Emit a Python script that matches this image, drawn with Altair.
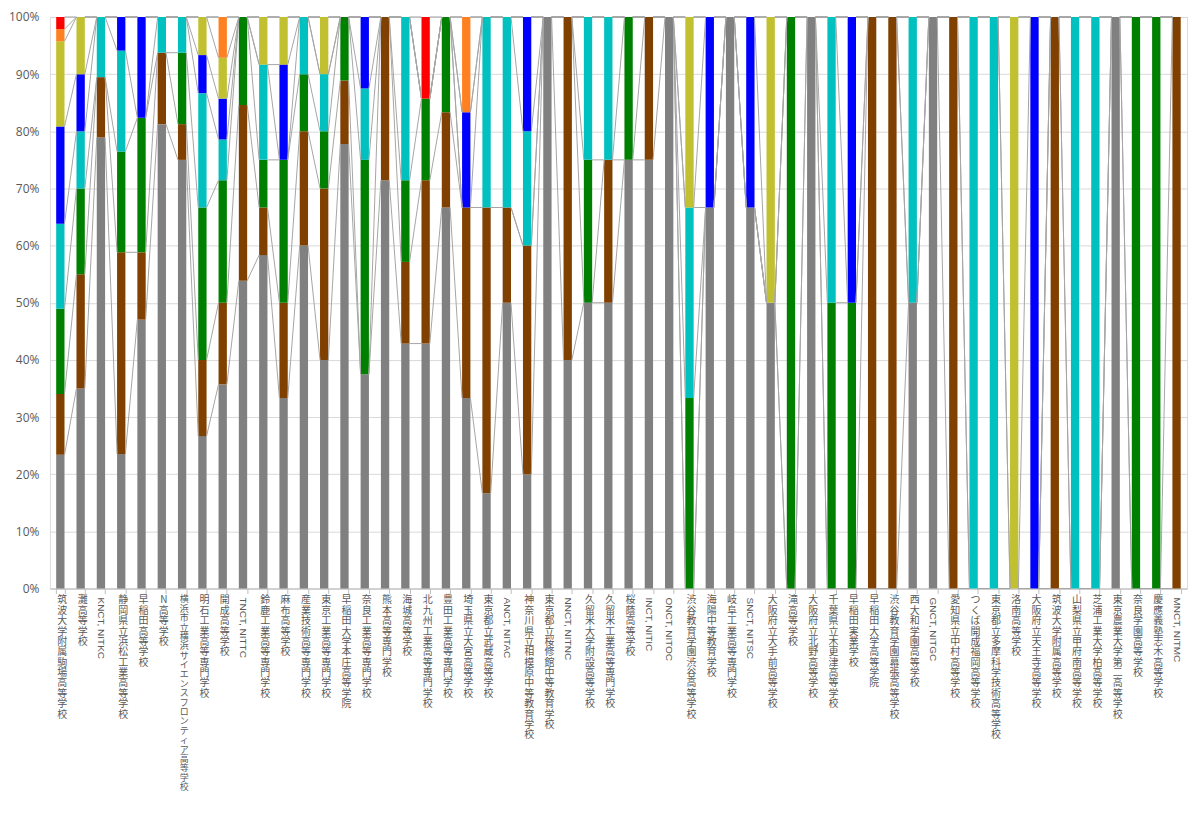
import altair as alt
import pandas as pd

schools = [
    "筑波大学附属駒場高等学校", "灘高等学校", "KNCT, NITKC", "静岡県立浜松工業高等学校",
    "早稲田高等学校", "N高等学校", "横浜市立横浜サイエンスフロンティア高等学校",
    "明石工業高等専門学校", "開成高等学校", "TNCT, NITTC", "鈴鹿工業高等専門学校",
    "麻布高等学校", "産業技術高等専門学校", "東京工業高等専門学校", "早稲田大学本庄高等学院",
    "奈良工業高等専門学校", "熊本高等専門学校", "海城高等学校", "北九州工業高等専門学校",
    "豊田工業高等専門学校", "埼玉県立大宮高等学校", "東京都立武蔵高等学校", "ANCT, NITAC",
    "神奈川県立相模原中等教育学校", "東京都立桜修館中等教育学校", "NNCT, NITNC",
    "久留米大学附設高等学校", "久留米工業高等専門学校", "桜蔭高等学校", "INCT, NITIC",
    "ONCT, NITOC", "渋谷教育学園渋谷高等学校", "海陽中等教育学校", "岐阜工業高等専門学校",
    "SNCT, NITSC", "大阪府立大手前高等学校", "滝高等学校", "大阪府立北野高等学校",
    "千葉県立木更津高等学校", "早稲田実業学校", "早稲田大学高等学院", "渋谷教育学園幕張高等学校",
    "西大和学園高等学校", "GNCT, NITGC", "愛知県立中村高等学校", "つくば開成福岡高等学校",
    "東京都立多摩科学技術高等学校", "洛南高等学校", "大阪府立天王寺高等学校",
    "筑波大学附属高等学校", "山梨県立甲府南高等学校", "芝浦工業大学柏高等学校",
    "東京農業大学第二高等学校", "奈良学園高等学校", "慶應義塾志木高等学校", "MNCT, NITMC",
]

series_names = ["系列1", "系列2", "系列3", "系列4", "系列5", "系列6", "系列7", "系列8"]
series_colors = ["#808080", "#804000", "#008000", "#00C0C0", "#0000FF", "#C0C030", "#FF8020", "#FF0000"]

gray = [11, 7, 15, 4, 8, 13, 12, 4, 5, 7, 7, 4, 6, 4, 7, 3, 5, 3, 3, 4, 2, 1, 3, 1, 1, 2, 2, 2,
        3, 3, 1, 0, 2, 1, 2, 1, 0, 1, 0, 0, 0, 0, 1, 1, 0, 0, 0, 0, 0, 0, 0, 0, 1, 0, 0, 0]
brown = [5, 4, 2, 6, 2, 2, 1, 2, 2, 4, 1, 2, 2, 3, 1, 0, 2, 1, 2, 1, 2, 3, 1, 2, 0, 3, 0, 1,
         0, 1, 0, 0, 0, 0, 0, 0, 0, 0, 0, 0, 1, 1, 0, 0, 1, 0, 0, 0, 0, 1, 0, 0, 0, 0, 0, 1]
green = [7, 3, 0, 3, 4, 0, 2, 4, 3, 2, 1, 3, 1, 1, 1, 3, 0, 1, 1, 1, 0, 0, 0, 0, 0, 0, 1, 0,
         1, 0, 0, 1, 0, 0, 0, 0, 1, 0, 1, 1, 0, 0, 0, 0, 0, 0, 0, 0, 0, 0, 0, 0, 0, 1, 1, 0]
cyan = [7, 2, 2, 3, 0, 1, 1, 3, 1, 0, 2, 0, 1, 1, 0, 1, 0, 2, 0, 0, 0, 2, 2, 1, 0, 0, 1, 1,
        0, 0, 0, 1, 0, 0, 0, 0, 0, 0, 1, 0, 0, 0, 1, 0, 0, 1, 1, 0, 0, 0, 1, 1, 0, 0, 0, 0]
blue = [8, 2, 0, 1, 3, 0, 0, 1, 1, 0, 0, 2, 0, 0, 0, 1, 0, 0, 0, 0, 1, 0, 0, 1, 0, 0, 0, 0,
        0, 0, 0, 0, 1, 0, 1, 0, 0, 0, 0, 1, 0, 0, 0, 0, 0, 0, 0, 0, 1, 0, 0, 0, 0, 0, 0, 0]
olive = [7, 2, 0, 0, 0, 0, 0, 1, 1, 0, 1, 1, 0, 1, 0, 0, 0, 0, 0, 0, 0, 0, 0, 0, 0, 0, 0, 0,
         0, 0, 0, 1, 0, 0, 0, 1, 0, 0, 0, 0, 0, 0, 0, 0, 0, 0, 0, 1, 0, 0, 0, 0, 0, 0, 0, 0]
orange = [1, 0, 0, 0, 0, 0, 0, 0, 1, 0, 0, 0, 0, 0, 0, 0, 0, 0, 0, 0, 1, 0, 0, 0, 0, 0, 0, 0,
          0, 0, 0, 0, 0, 0, 0, 0, 0, 0, 0, 0, 0, 0, 0, 0, 0, 0, 0, 0, 0, 0, 0, 0, 0, 0, 0, 0]
red = [1, 0, 0, 0, 0, 0, 0, 0, 0, 0, 0, 0, 0, 0, 0, 0, 0, 0, 1, 0, 0, 0, 0, 0, 0, 0, 0, 0,
       0, 0, 0, 0, 0, 0, 0, 0, 0, 0, 0, 0, 0, 0, 0, 0, 0, 0, 0, 0, 0, 0, 0, 0, 0, 0, 0, 0]

all_series = [gray, brown, green, cyan, blue, olive, orange, red]

# long table for bars
rows = []
for k, (name, vals) in enumerate(zip(series_names, all_series)):
    for s, v in zip(schools, vals):
        rows.append({"school": s, "series": name, "sidx": k, "count": v})
bars_df = pd.DataFrame(rows)

# series lines (connect cumulative tops of each series between adjacent bars)
totals = [sum(col[i] for col in all_series) for i in range(len(schools))]
cum = []
for i in range(len(schools)):
    c, acc = [], 0
    for col in all_series:
        acc += col[i]
        c.append(acc / totals[i])
    cum.append(c)
line_rows = []
for i in range(len(schools) - 1):
    for k in range(len(all_series)):
        line_rows.append({"school_a": schools[i], "school_b": schools[i + 1],
                          "ya": cum[i][k], "yb": cum[i + 1][k]})
lines_df = pd.DataFrame(line_rows)

# labels (vertical: CJK characters stacked, Latin rotated)
lab_df = pd.DataFrame({
    "school": schools,
    "vlabel": ["\n".join(list(s)) for s in schools],
    "kind": ["latin" if all(ord(ch) < 128 for ch in s) else ("long" if len(s) > 16 else "cjk")
             for s in schools],
})

W, H = 1140, 573
xscale = alt.Scale(domain=schools, paddingInner=0.59, paddingOuter=0.31)
xaxis = alt.Axis(title=None, labels=False, ticks=True, tickBand="extent", tickSize=5,
                 tickColor="#bfbfbf", domainColor="#bfbfbf", grid=False)
yscale = alt.Scale(domain=[0, 1], nice=False)
yaxis = alt.Axis(title=None, format="%", values=[i / 10 for i in range(11)], domain=False,
                 ticks=False, labelColor="#595959", labelFontSize=12, labelFont="Open Sans",
                 labelPadding=11, gridColor="#d9d9d9")

xenc = alt.X("school:N", sort=schools, scale=xscale, axis=xaxis, title=None)

bars = alt.Chart(bars_df).mark_bar().encode(
    x=xenc,
    y=alt.Y("count:Q", stack="normalize", scale=yscale, axis=yaxis, title=None),
    color=alt.Color("series:N", scale=alt.Scale(domain=series_names, range=series_colors), legend=None),
    order=alt.Order("sidx:Q"),
)

slines = alt.Chart(lines_df).mark_rule(color="#a6a6a6", strokeWidth=1).encode(
    x=alt.X("school_a:N", sort=schools, scale=xscale, axis=xaxis, bandPosition=1, title=None),
    x2=alt.X2("school_b", bandPosition=0),
    y=alt.Y("ya:Q", scale=yscale, axis=yaxis, title=None),
    y2="yb",
)

cjk = alt.Chart(lab_df).transform_filter("datum.kind == 'cjk'").mark_text(
    baseline="top", align="center", lineBreak="\n", lineHeight=10.4, fontSize=10,
    font="Noto Sans CJK JP", color="#595959", dx=2,
).encode(
    x=xenc,
    y=alt.value(H + 7),
    text="vlabel:N",
)

cjk_long = alt.Chart(lab_df).transform_filter("datum.kind == 'long'").mark_text(
    baseline="top", align="center", lineBreak="\n", lineHeight=9.4, fontSize=9,
    font="Noto Sans CJK JP", color="#595959", dx=2,
).encode(
    x=xenc,
    y=alt.value(H + 7),
    text="vlabel:N",
)

latin = alt.Chart(lab_df).transform_filter("datum.kind == 'latin'").mark_text(
    angle=90, baseline="middle", align="left", fontSize=10,
    font="Liberation Sans", color="#595959", dx=2,
).encode(
    x=xenc,
    y=alt.value(H + 7),
    text="school:N",
)

chart = alt.layer(bars, slines, cjk, cjk_long, latin).properties(
    width=W, height=H,
    padding={"left": 0, "top": 2, "right": 5, "bottom": 0},
).configure_view(stroke=None).configure(background="white")

chart.save("out.html", embed_options={"renderer": "svg", "actions": False})
